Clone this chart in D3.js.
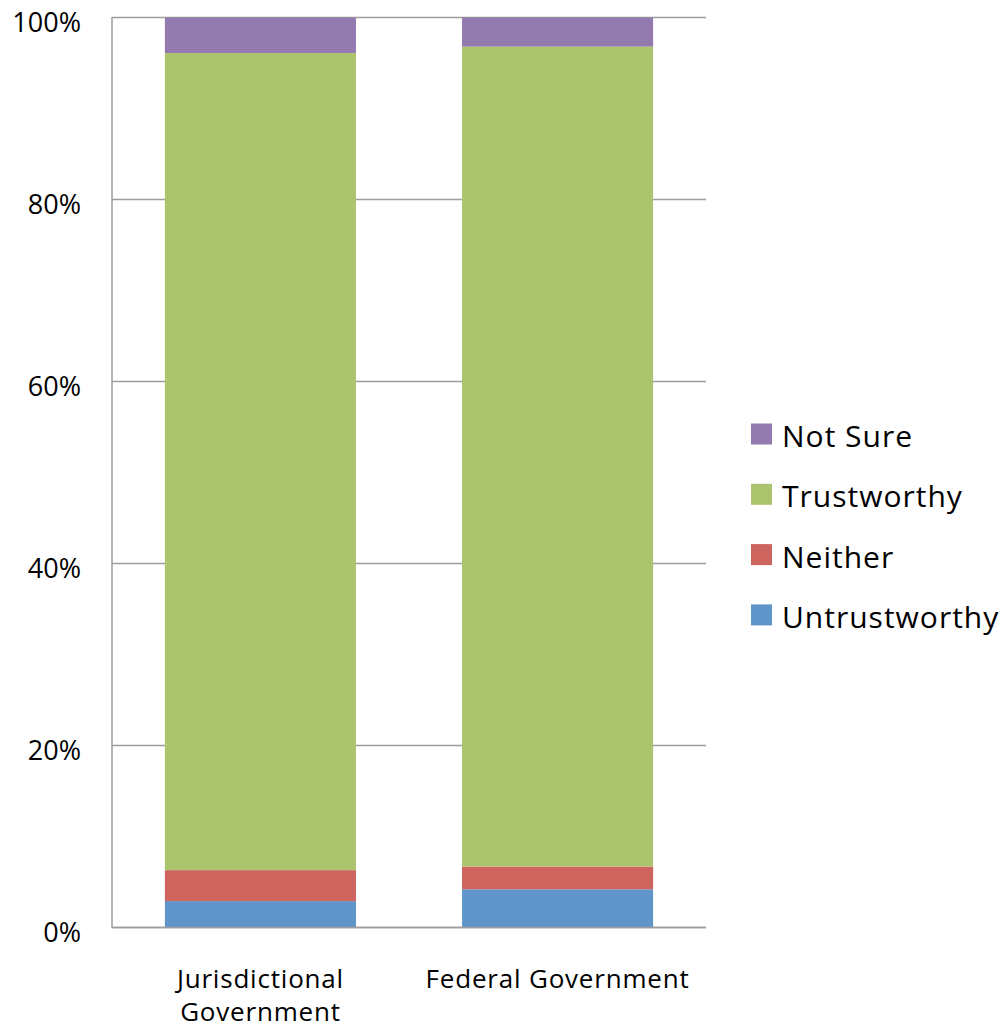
<!DOCTYPE html>
<html><head><meta charset="utf-8">
<script src="https://cdn.jsdelivr.net/npm/d3@7"></script>
<style>body{margin:0;background:#fff}svg{display:block}text{font-family:"Open Sans",sans-serif;fill:#000}</style>
</head><body>
<script>
const categories = ["Jurisdictional Government", "Federal Government"];
const categoryLines = [["Jurisdictional", "Government"], ["Federal Government"]];
const seriesNames = ["Untrustworthy", "Neither", "Trustworthy", "Not Sure"];
const untrustworthy = [2.9, 4.2];
const neither = [3.4, 2.5];
const trustworthy = [89.8, 90.1];
const notSure = [3.9, 3.2];
const colors = ["#5f95c9", "#cd645d", "#abc46d", "#937bb0"];
const tickValues = [0, 20, 40, 60, 80, 100];

const W = 1002, H = 1029;
const svg = d3.select("body").append("svg").attr("width", W).attr("height", H);
const m = {left: 112, right: 706, top: 17.5, bottom: 927.5};

const x = d3.scaleBand().domain(categories).range([m.left, m.right]).paddingInner(0.357).paddingOuter(0.178);
const y = d3.scaleLinear().domain([0, 100]).range([m.bottom, m.top]);

svg.append("g").selectAll("line").data(tickValues).join("line")
  .attr("x1", m.left).attr("x2", m.right)
  .attr("y1", d => y(d)).attr("y2", d => y(d))
  .attr("stroke", "#9d9d9d").attr("stroke-width", 1.5);

const table = categories.map((c, i) => ({cat: c, Untrustworthy: untrustworthy[i], Neither: neither[i], Trustworthy: trustworthy[i], "Not Sure": notSure[i]}));
const stacked = d3.stack().keys(seriesNames)(table);

svg.append("g").selectAll("g").data(stacked).join("g")
  .attr("fill", (d, i) => colors[i])
  .selectAll("rect").data(d => d).join("rect")
  .attr("x", d => x(d.data.cat))
  .attr("width", x.bandwidth())
  .attr("y", d => y(d[1]))
  .attr("height", d => y(d[0]) - y(d[1]));

svg.append("line").attr("x1", m.left).attr("x2", m.left).attr("y1", m.top - 0.5).attr("y2", m.bottom + 0.5)
  .attr("stroke", "#9d9d9d").attr("stroke-width", 1.5);
svg.append("line").attr("x1", m.left).attr("x2", m.right).attr("y1", m.bottom).attr("y2", m.bottom)
  .attr("stroke", "#9d9d9d").attr("stroke-width", 1.5);

const yAxis = d3.axisLeft(y).tickValues(tickValues).tickFormat(d => d + "%").tickSize(0).tickPadding(31);
const ya = svg.append("g").attr("transform", `translate(${m.left},0)`).call(yAxis);
ya.select(".domain").remove();
ya.selectAll("text").attr("font-size", 27).attr("font-family", "'Open Sans',sans-serif").attr("fill", "#000")
  .attr("dy", 13.5);

categories.forEach((c, i) => {
  const cx = x(c) + x.bandwidth() / 2;
  const t = svg.append("text").attr("x", cx).attr("y", 988)
    .attr("text-anchor", "middle").attr("font-size", 26).attr("letter-spacing", 0.8);
  categoryLines[i].forEach((l, j) => t.append("tspan").attr("x", cx).attr("dy", j === 0 ? 0 : 33).text(l));
});

const legendOrder = ["Not Sure", "Trustworthy", "Neither", "Untrustworthy"];
const lg = svg.append("g");
legendOrder.forEach((s, i) => {
  const cy = 436 + i * 60.3;
  lg.append("rect").attr("x", 751).attr("y", cy - 12.5).attr("width", 21).attr("height", 21)
    .attr("fill", colors[seriesNames.indexOf(s)]);
  lg.append("text").attr("x", 782).attr("y", cy + 11).attr("font-size", 30).attr("letter-spacing", 1).text(s);
});
</script>
</body></html>
